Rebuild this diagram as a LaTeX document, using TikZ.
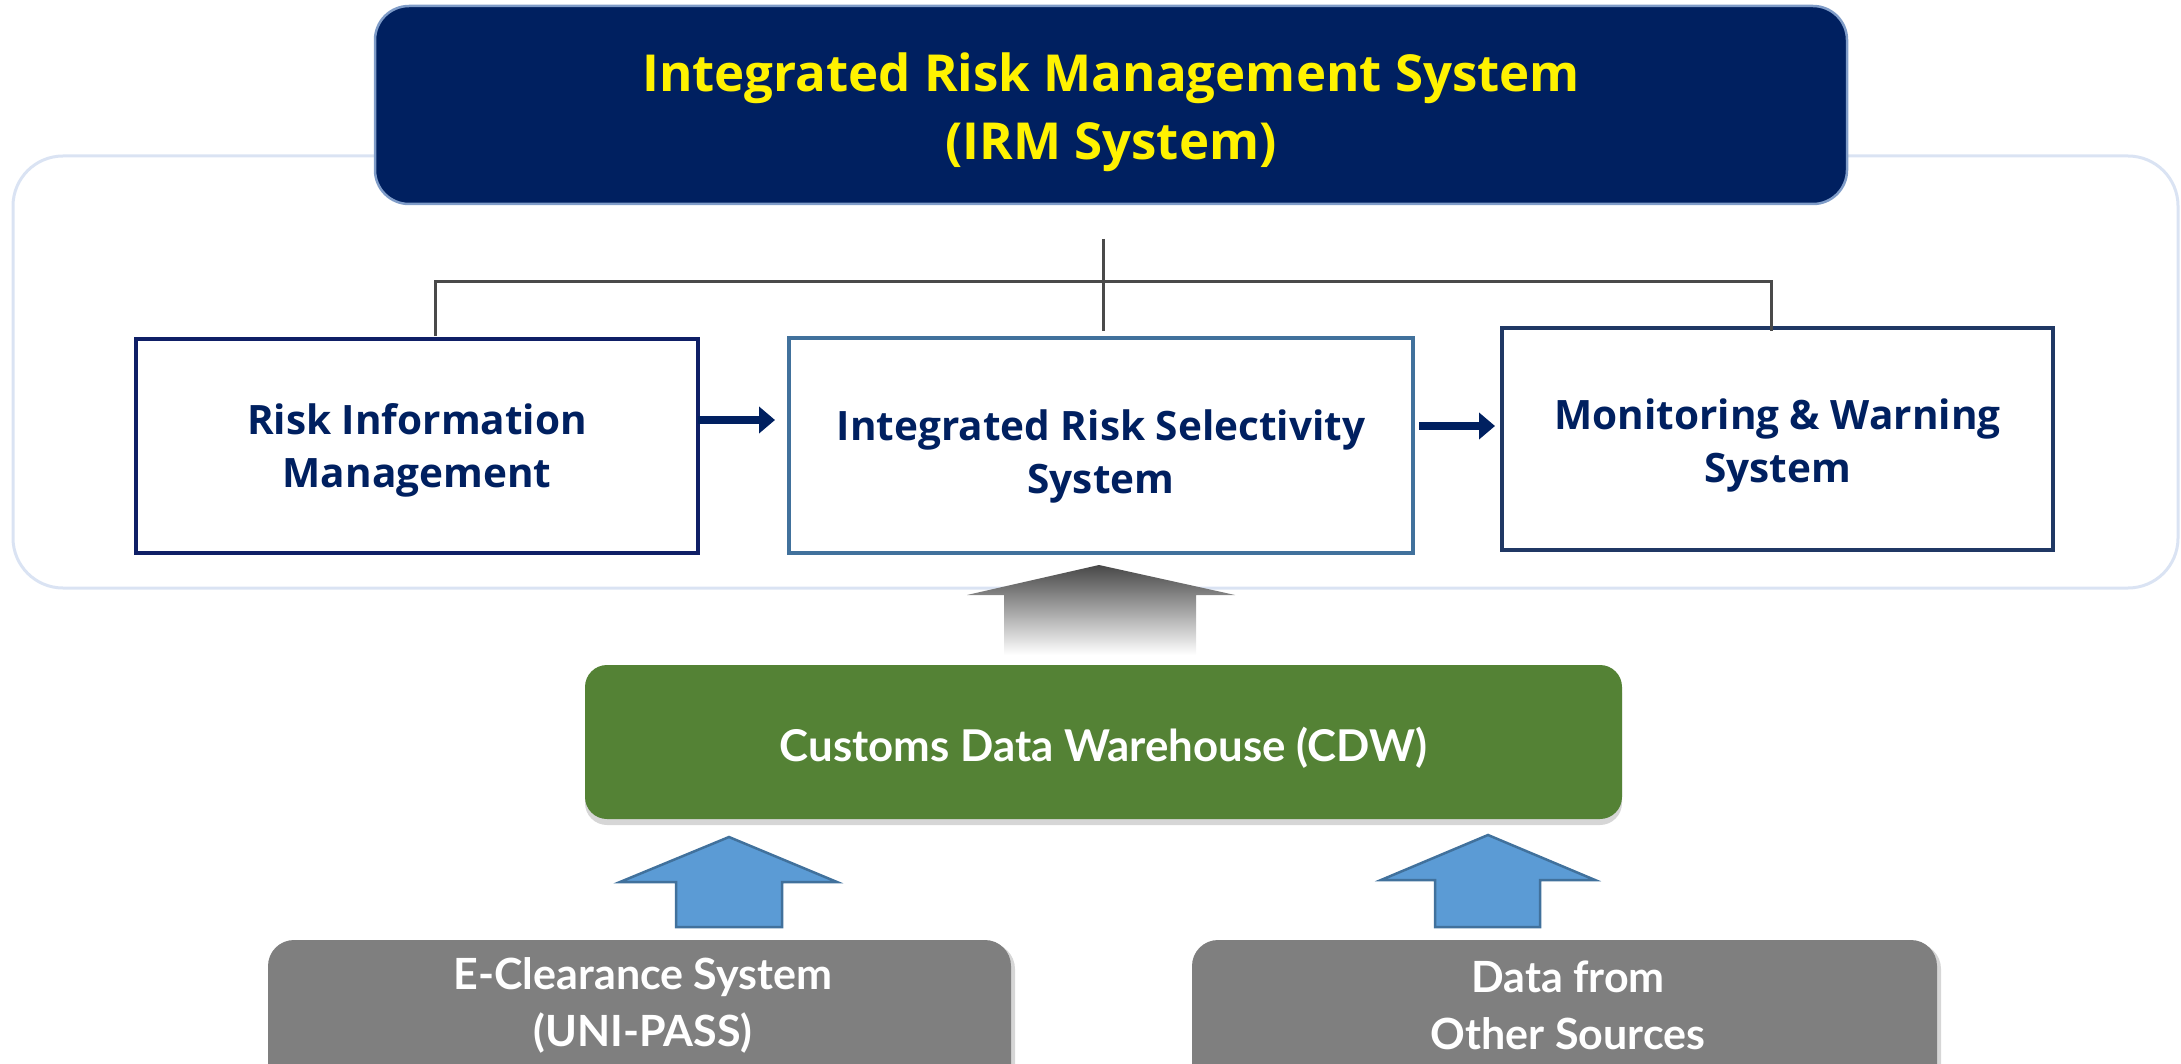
\documentclass[tikz,border=0pt]{standalone}
\usepackage{fontspec}
\setmainfont{Open Sans}
\newfontfamily\latofont{Lato}
\usetikzlibrary{arrows.meta,shadows,calc}
\definecolor{navy}{HTML}{002060}
\definecolor{boxoneline}{HTML}{0F1F66}
\definecolor{steel}{HTML}{41719C}
\definecolor{boxthreeline}{HTML}{203864}
\definecolor{cdwgreen}{HTML}{548235}
\definecolor{srcgray}{HTML}{7F7F7F}
\definecolor{arrowblue}{HTML}{5B9BD5}
\definecolor{arrowedge}{HTML}{41719C}
\definecolor{panelline}{HTML}{DAE3F3}
\definecolor{titleline}{HTML}{7F9CC8}
\definecolor{treegray}{HTML}{4A4A4A}
\newcommand{\shiftlines}[2]{\raisebox{#1}[\height][\depth]{\begin{tabular}{@{}c@{}}#2\end{tabular}}}
\begin{document}
\begin{tikzpicture}[x=1pt,y=-1pt,
  every node/.style={inner sep=0pt, outer sep=0pt},
  panel/.style={draw=panelline, line width=3pt, rounded corners=50pt},
  titlebox/.style={fill=navy, draw=titleline, line width=2.5pt, rounded corners=34pt,
    text=yellow, align=center, font=\fontsize{51}{68}\selectfont\bfseries},
  subbox/.style={fill=white, line width=3.5pt, align=center, text=navy,
    font=\fontsize{40.5}{53}\selectfont\bfseries},
  tree/.style={draw=treegray, line width=3pt},
  flowarrow/.style={draw=navy, line width=8pt, -{Triangle[length=16pt,width=26pt]}},
  cdwbox/.style={fill=cdwgreen, rounded corners=22pt, text=white,
    font=\latofont\fontsize{43.8}{57}\selectfont\bfseries,
    drop shadow={shadow xshift=0pt, shadow yshift=-6pt, fill=black, opacity=0.16}},
  srcbox/.style={fill=srcgray, rounded corners=26pt,
    drop shadow={shadow xshift=4pt, shadow yshift=-3pt, fill=black, opacity=0.16}},
  srctext/.style={text=white, align=center,
    font=\latofont\fontsize{43}{57}\selectfont\bfseries},
  bluearrow/.style={fill=arrowblue, draw=arrowedge, line width=2.5pt, line join=miter},
  grayarrow/.style={top color=black!72, bottom color=white}
]
\useasboundingbox (0,0) rectangle (2181,1064);
\clip (0,0) rectangle (2181,1064);

% outer panel
\node[panel, minimum width=2165pt, minimum height=432pt] (panel) at (1095.5,372) {};

% title
\node[titlebox, minimum width=1472pt, minimum height=198pt] (irm) at (1111,105)
  {\shiftlines{-7pt}{Integrated Risk Management System\\(IRM System)}};

% three sub-systems
\node[subbox, draw=boxoneline, minimum width=562pt, minimum height=214pt] (rim) at (417,446)
  {\shiftlines{-4pt}{Risk Information\\Management}};
\node[subbox, draw=steel, minimum width=624pt, minimum height=215pt] (irss) at (1101,445.5)
  {\shiftlines{-11pt}{Integrated Risk Selectivity\\System}};
\node[subbox, draw=boxthreeline, minimum width=551pt, minimum height=222pt] (mws) at (1777.5,439)
  {\shiftlines{-6pt}{Monitoring \& Warning\\System}};

% tree connector
\coordinate (hub) at (1103,239);
\coordinate (bar) at (1103,282);
\draw[tree] (hub) -- (hub |- irss.north) [shorten >=7pt];
\draw[tree] ([xshift=18pt,yshift=3pt]rim.north) |- (bar) -| ([xshift=-6.5pt,yshift=-3pt]mws.north);

% flow arrows
\draw[flowarrow, shorten >=14pt] ([yshift=26pt]rim.east) -- ([yshift=26pt]rim.east -| irss.west);
\draw[flowarrow, shorten <=6pt, shorten >=7pt] ([yshift=19.5pt]irss.east) -- ([yshift=19.5pt]irss.east -| mws.west);

% gray gradient arrow
\shade[grayarrow] (1099,565) -- (1235,595) -- (1196,595) -- (1196,655)
  -- (1004,655) -- (1004,595) -- (967,595) -- cycle;

% customs data warehouse
\node[cdwbox, minimum width=1037pt, minimum height=154pt] (cdw) at (1103.5,742)
  {\raisebox{-5.5pt}[\height][\depth]{Customs Data Warehouse (CDW)}};

% blue arrows
\draw[bluearrow] (729,837) -- (837,882) -- (782,882) -- (782,927) -- (676,927)
  -- (676,882) -- (620,882) -- cycle;
\draw[bluearrow] (1488,835) -- (1595,880) -- (1540,880) -- (1540,927) -- (1435,927)
  -- (1435,880) -- (1381,880) -- cycle;

% sources
\node[srcbox, minimum width=743pt, minimum height=180pt, anchor=north] (ecl) at (639.5,940) {};
\node[srcbox, minimum width=745pt, minimum height=180pt, anchor=north] (oth) at (1564.5,940) {};
\node[srctext] (ecltext) at (643,1005) {E-Clearance System\\(UNI-PASS)};
\node[srctext] (othtext) at (1568,1005) {Data from\\Other Sources};
\end{tikzpicture}
\end{document}
